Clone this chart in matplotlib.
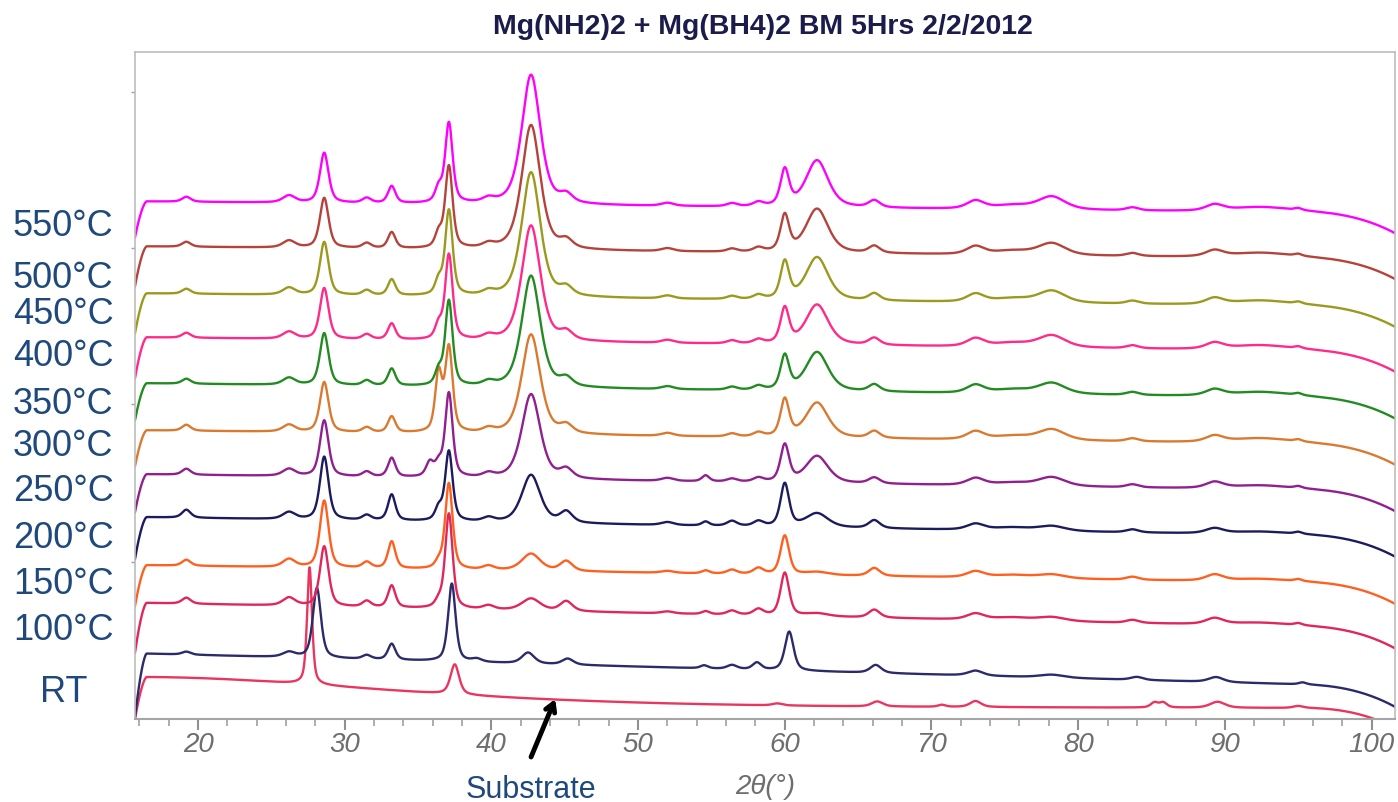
import numpy as np
import matplotlib
matplotlib.use("Agg")
import matplotlib.pyplot as plt
from matplotlib.ticker import MultipleLocator

plt.rcParams['font.family'] = ['Liberation Sans', 'DejaVu Sans']

# scan range (2theta, degrees) and step
two_theta = np.arange(15.7, 101.6, 0.02)

# reflections seen in the heated samples: position, FWHM
angles_main = [19.2, 26.2, 28.6, 31.5, 33.2, 35.8, 36.4, 37.1, 39.8, 42.7, 45.1, 52.0,
               54.6, 56.4, 58.2, 60.0, 62.2, 66.1, 73.0, 75.5, 78.2, 83.7, 89.3, 92.5, 95.0]
fwhm_main = [0.7, 1.0, 0.7, 0.7, 0.6, 0.6, 0.55, 0.6, 0.9, 1.5, 1.0, 1.0,
             0.6, 0.8, 0.8, 0.7, 1.8, 0.9, 1.4, 3.0, 2.2, 1.0, 1.4, 5.0, 0.6]

# peak heights per temperature (same order as angles_main)
h_550 = [5, 7, 50, 5, 17, 0, 14, 80, 4, 130, 8, 3, 0, 3, 4, 36, 47, 7, 8, 4, 13, 3, 6, 5, 2]
h_500 = [5, 7, 50, 5, 16, 0, 14, 82, 4, 125, 8, 3, 0, 3, 4, 36, 44, 7, 8, 4, 12, 3, 6, 5, 2]
h_450 = [5, 7, 53, 5, 16, 0, 14, 85, 4, 125, 8, 3, 0, 3, 4, 37, 43, 7, 8, 4, 12, 3, 6, 5, 2]
h_400 = [5, 7, 51, 5, 16, 0, 14, 85, 4, 116, 8, 3, 0, 3, 4, 35, 40, 7, 8, 4, 12, 3, 6, 5, 2]
h_350 = [5, 7, 52, 5, 17, 0, 14, 85, 4, 112, 8, 3, 0, 3, 4, 34, 39, 7, 8, 4, 11, 3, 6, 5, 2]
h_300 = [6, 7, 50, 5, 16, 0, 58, 84, 4, 100, 8, 3, 0, 3, 4, 37, 35, 7, 8, 4, 11, 3, 6, 5, 2]
h_250 = [6, 7, 56, 5, 19, 14, 12, 84, 4, 85, 9, 3, 6, 3, 4, 37, 27, 6, 7, 3, 9, 3, 6, 4, 2]
h_200 = [8, 7, 63, 5, 26, 0, 12, 70, 4, 48, 11, 3, 4, 5, 5, 43, 14, 8, 6, 3, 5, 3, 5, 3, 2]
h_150 = [6, 8, 67, 6, 27, 0, 6, 86, 4, 17, 10, 2, 3, 4, 6, 39, 3, 8, 6, 3, 4, 3, 6, 3, 2]
h_100 = [6, 8, 60, 6, 22, 0, 6, 95, 4, 12, 10, 2, 3, 4, 6, 43, 3, 8, 6, 3, 4, 3, 6, 3, 2]

# as-milled sample at room temperature
angles_rt = [19.2, 26.2, 28.1, 31.5, 33.2, 37.3, 39.0, 42.5, 45.2, 54.5, 56.4, 58.1,
             60.3, 66.2, 73.0, 78.2, 84.0, 89.4, 95.3]
fwhm_rt = [0.7, 1.0, 0.65, 0.7, 0.6, 0.6, 0.8, 1.0, 0.9, 0.6, 0.8, 0.7,
           0.7, 0.9, 1.2, 2.0, 1.0, 1.2, 0.6]
h_rt = [3, 5, 70, 4, 16, 78, 3, 11, 6, 3, 4, 7, 39, 8, 5, 3, 3, 5, 2]

# empty holder / substrate (first entry is the broad amorphous hump)
angles_sub = [16.0, 27.6, 37.5, 59.5, 66.3, 70.7, 73.0, 85.2, 85.8, 89.5, 95.0]
fwhm_sub = [40.0, 0.4, 0.7, 0.8, 0.9, 0.6, 0.9, 0.6, 0.6, 1.2, 0.8]
h_sub = [32, 117, 30, 2, 5, 2, 6, 5, 5, 6, 2]

labels = ['550°C', '500°C', '450°C', '400°C', '350°C', '300°C', '250°C',
          '200°C', '150°C', '100°C', 'RT', '']
label_y = [227, 278, 315, 357, 405, 447, 492, 538, 585, 630, 693]
colors = ['#ff00ff', '#b5433b', '#9a9a1e', '#ff2a8a', '#228b22', '#d97a30',
          '#902090', '#1b1b5e', '#ff5f1f', '#e0265a', '#2b2b6b', '#e8365f']
offsets = [517, 472, 425, 381, 335, 288, 244, 201, 153, 115, 64, 10]
slopes = [-0.14, -0.15, -0.16, -0.17, -0.18, -0.17, -0.2, -0.23, -0.22, -0.3, -0.39, 0.0]
onset = [36, 40, 40, 41, 37, 36, 38, 42, 41, 50, 64, 42]

peak_sets = [(angles_main, fwhm_main, h) for h in
             [h_550, h_500, h_450, h_400, h_350, h_300, h_250, h_200, h_150, h_100]]
peak_sets.append((angles_rt, fwhm_rt, h_rt))
peak_sets.append((angles_sub, fwhm_sub, h_sub))


def pseudo_voigt(x, c, w, h, eta=0.55):
    u = (x - c) / w
    return h * (eta / (1 + 4 * u ** 2) + (1 - eta) * np.exp(-4 * np.log(2) * u ** 2))


def pattern(x, base, slope, drop, peaks):
    pos, wid, hts = peaks
    y = base + slope * (x - 20)
    for c, w, h in zip(pos, wid, hts):
        if h:
            y = y + pseudo_voigt(x, c, w, h)
    # detector onset at low angle and roll-off at the end of the scan
    y = y - drop * np.clip(1 - (x - x[0]) / 0.8, 0, None) ** 1.6
    y = y - 20 * np.clip((x - 95) / 6.6, 0, None) ** 2.5
    return y


W, H = 1398, 803
fig = plt.figure(figsize=(W / 100, H / 100), dpi=100)
ax = fig.add_axes([135 / W, 1 - 720 / H, (1395 - 135) / W, (720 - 53) / H])

for i in range(len(colors) - 1, -1, -1):
    y = pattern(two_theta, offsets[i], slopes[i], onset[i], peak_sets[i])
    ax.plot(two_theta, y, color=colors[i], lw=1.7)

ax.set_xlim(15.7, 101.6)
ax.set_ylim(0, 667)

for side in ['top', 'right', 'left']:
    ax.spines[side].set_color('#bdbdbd')
    ax.spines[side].set_linewidth(1.2)
ax.spines['bottom'].set_color('#a5a5a5')
ax.spines['bottom'].set_linewidth(1.5)

ax.xaxis.set_major_locator(MultipleLocator(10))
ax.xaxis.set_minor_locator(MultipleLocator(2))
ax.set_xticks(np.arange(20, 101, 10))
ax.tick_params(axis='x', which='major', length=8, width=1.5, color='#909090',
               labelsize=20, labelcolor='#6e6e6e', pad=1)
ax.tick_params(axis='x', which='minor', length=5, width=1.2, color='#a0a0a0')
for lab in ax.get_xticklabels():
    lab.set_style('italic')

ax.set_yticks([157, 315, 471, 627])
ax.set_yticklabels([])
ax.tick_params(axis='y', length=3, width=1, color='#a0a0a0')

fig.text(763 / W, 1 - 27 / H, 'Mg(NH2)2 + Mg(BH4)2 BM 5Hrs 2/2/2012',
         ha='center', va='center', fontsize=20.5, fontweight='bold', color='#1c1c4c')

for lab, yp in zip(labels, label_y):
    xp = 40 if lab == 'RT' else 13
    fig.text(xp / W, 1 - yp / H, lab, ha='left', va='center', fontsize=26, color='#1f497d')

fig.text(765 / W, 1 - 787 / H, '2θ(°)', ha='center', va='center', fontsize=20,
         style='italic', color='#6e6e6e')
fig.text(531 / W, 1 - 790 / H, 'Substrate', ha='center', va='center', fontsize=22,
         color='#1f497d')

ax.annotate('', xy=(44.35, 20), xytext=(42.7, -38), annotation_clip=False,
            arrowprops=dict(arrowstyle='->,head_length=0.6,head_width=0.35', lw=3.5,
                            color='black', shrinkA=0, shrinkB=0))

fig.savefig('out.png', dpi=100)
